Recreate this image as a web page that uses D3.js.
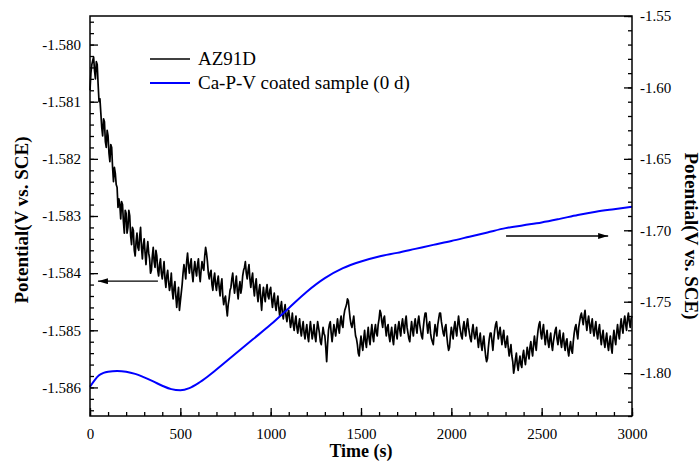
<!DOCTYPE html>
<html>
<head>
<meta charset="utf-8">
<script src="https://cdn.jsdelivr.net/npm/d3@7"></script>
<style>
  body { margin: 0; background: #fff; }
  svg { display: block; }
  text { font-family: "Liberation Serif", "Times New Roman", serif; }
</style>
</head>
<body>
<svg id="chart" width="700" height="461"></svg>
<script>
// ---------- DATA ----------
const xTicks = [0, 500, 1000, 1500, 2000, 2500, 3000];
const leftTicks = [-1.580, -1.581, -1.582, -1.583, -1.584, -1.585, -1.586];
const rightTicks = [-1.55, -1.60, -1.65, -1.70, -1.75, -1.80];
const legendLabels = ["AZ91D", "Ca-P-V coated sample (0 d)"];

// AZ91D potential (left axis), readings at t = 0, 10, 20, ... 3000 s
const azStep = 10;
const azValues = [
-1.58080,-1.58035,-1.58022,-1.58060,-1.58035,-1.58100,-1.58120,-1.58160,-1.58135,-1.58180,
-1.58160,-1.58205,-1.58180,-1.58240,-1.58225,-1.58250,-1.58270,-1.58305,-1.58280,-1.58330,
-1.58295,-1.58320,-1.58300,-1.58350,-1.58325,-1.58370,-1.58330,-1.58360,-1.58320,-1.58375,
-1.58340,-1.58385,-1.58345,-1.58375,-1.58395,-1.58355,-1.58390,-1.58370,-1.58405,-1.58375,
-1.58410,-1.58380,-1.58425,-1.58395,-1.58430,-1.58400,-1.58445,-1.58415,-1.58460,-1.58425,
-1.58450,-1.58420,-1.58385,-1.58410,-1.58365,-1.58400,-1.58375,-1.58415,-1.58380,-1.58405,
-1.58375,-1.58415,-1.58380,-1.58395,-1.58355,-1.58380,-1.58410,-1.58395,-1.58430,-1.58400,
-1.58430,-1.58405,-1.58440,-1.58410,-1.58455,-1.58440,-1.58475,-1.58445,-1.58425,-1.58400,
-1.58435,-1.58405,-1.58445,-1.58415,-1.58425,-1.58395,-1.58380,-1.58410,-1.58385,-1.58425,
-1.58400,-1.58440,-1.58410,-1.58450,-1.58420,-1.58465,-1.58425,-1.58450,-1.58420,-1.58445,
-1.58425,-1.58460,-1.58435,-1.58465,-1.58440,-1.58475,-1.58450,-1.58480,-1.58455,-1.58485,
-1.58465,-1.58495,-1.58470,-1.58500,-1.58475,-1.58505,-1.58480,-1.58510,-1.58485,-1.58515,
-1.58490,-1.58520,-1.58485,-1.58515,-1.58490,-1.58520,-1.58485,-1.58505,-1.58525,-1.58495,
-1.58510,-1.58555,-1.58500,-1.58485,-1.58520,-1.58490,-1.58510,-1.58480,-1.58505,-1.58475,
-1.58495,-1.58465,-1.58455,-1.58448,-1.58480,-1.58495,-1.58475,-1.58510,-1.58525,-1.58545,
-1.58510,-1.58535,-1.58500,-1.58530,-1.58495,-1.58525,-1.58490,-1.58520,-1.58490,-1.58510,
-1.58480,-1.58470,-1.58495,-1.58475,-1.58510,-1.58490,-1.58520,-1.58495,-1.58525,-1.58490,
-1.58515,-1.58485,-1.58510,-1.58480,-1.58505,-1.58475,-1.58505,-1.58520,-1.58485,-1.58510,
-1.58480,-1.58505,-1.58475,-1.58500,-1.58515,-1.58480,-1.58470,-1.58505,-1.58485,-1.58515,
-1.58525,-1.58490,-1.58510,-1.58480,-1.58470,-1.58495,-1.58510,-1.58490,-1.58525,-1.58530,
-1.58495,-1.58515,-1.58485,-1.58510,-1.58475,-1.58500,-1.58515,-1.58485,-1.58510,-1.58480,
-1.58505,-1.58520,-1.58490,-1.58515,-1.58495,-1.58530,-1.58505,-1.58535,-1.58510,-1.58545,
-1.58550,-1.58515,-1.58505,-1.58535,-1.58500,-1.58485,-1.58515,-1.58495,-1.58525,-1.58500,
-1.58530,-1.58510,-1.58545,-1.58525,-1.58555,-1.58565,-1.58540,-1.58570,-1.58545,-1.58565,
-1.58535,-1.58560,-1.58530,-1.58550,-1.58520,-1.58545,-1.58510,-1.58535,-1.58500,-1.58485,
-1.58515,-1.58490,-1.58525,-1.58500,-1.58530,-1.58505,-1.58535,-1.58510,-1.58495,-1.58525,
-1.58500,-1.58530,-1.58505,-1.58535,-1.58515,-1.58545,-1.58520,-1.58540,-1.58505,-1.58490,
-1.58515,-1.58485,-1.58470,-1.58490,-1.58465,-1.58500,-1.58475,-1.58505,-1.58480,-1.58510,
-1.58485,-1.58515,-1.58490,-1.58525,-1.58500,-1.58530,-1.58505,-1.58535,-1.58510,-1.58540,
-1.58500,-1.58525,-1.58490,-1.58515,-1.58480,-1.58505,-1.58475,-1.58500,-1.58470,-1.58495,
-1.58475
];
// AZ91D readings in between, at t = 5, 15, 25, ... 2995 s
const azMidValues = [
-1.58050,-1.58028,-1.58045,-1.58030,-1.58070,-1.58095,-1.58145,-1.58130,-1.58170,-1.58150,
-1.58190,-1.58175,-1.58215,-1.58215,-1.58245,-1.58285,-1.58280,-1.58275,-1.58310,-1.58290,
-1.58330,-1.58290,-1.58335,-1.58320,-1.58360,-1.58345,-1.58355,-1.58335,-1.58355,-1.58350,
-1.58365,-1.58360,-1.58365,-1.58400,-1.58370,-1.58380,-1.58360,-1.58395,-1.58385,-1.58400,
-1.58395,-1.58410,-1.58405,-1.58415,-1.58420,-1.58430,-1.58425,-1.58440,-1.58440,-1.58465,
-1.58435,-1.58400,-1.58395,-1.58380,-1.58385,-1.58385,-1.58400,-1.58395,-1.58395,-1.58385,
-1.58400,-1.58395,-1.58390,-1.58370,-1.58365,-1.58400,-1.58400,-1.58420,-1.58410,-1.58420,
-1.58415,-1.58425,-1.58420,-1.58440,-1.58445,-1.58460,-1.58455,-1.58430,-1.58410,-1.58420,
-1.58420,-1.58430,-1.58425,-1.58435,-1.58405,-1.58390,-1.58400,-1.58395,-1.58410,-1.58410,
-1.58425,-1.58420,-1.58435,-1.58430,-1.58445,-1.58440,-1.58440,-1.58430,-1.58440,-1.58430,
-1.58445,-1.58445,-1.58455,-1.58450,-1.58460,-1.58460,-1.58470,-1.58465,-1.58475,-1.58470,
-1.58480,-1.58485,-1.58490,-1.58485,-1.58495,-1.58490,-1.58500,-1.58495,-1.58505,-1.58500,
-1.58510,-1.58500,-1.58500,-1.58505,-1.58510,-1.58500,-1.58495,-1.58520,-1.58510,-1.58505,
-1.58530,-1.58525,-1.58490,-1.58505,-1.58505,-1.58500,-1.58495,-1.58495,-1.58485,-1.58490,
-1.58475,-1.58460,-1.58445,-1.58465,-1.58490,-1.58485,-1.58495,-1.58515,-1.58540,-1.58525,
-1.58525,-1.58515,-1.58520,-1.58510,-1.58515,-1.58505,-1.58510,-1.58500,-1.58505,-1.58490,
-1.58465,-1.58485,-1.58480,-1.58495,-1.58495,-1.58510,-1.58505,-1.58515,-1.58505,-1.58505,
-1.58495,-1.58500,-1.58490,-1.58495,-1.58485,-1.58495,-1.58515,-1.58500,-1.58500,-1.58490,
-1.58495,-1.58485,-1.58490,-1.58510,-1.58495,-1.58470,-1.58490,-1.58490,-1.58505,-1.58520,
-1.58505,-1.58500,-1.58490,-1.58470,-1.58485,-1.58505,-1.58495,-1.58510,-1.58535,-1.58510,
-1.58505,-1.58495,-1.58500,-1.58490,-1.58490,-1.58510,-1.58495,-1.58500,-1.58490,-1.58495,
-1.58515,-1.58500,-1.58505,-1.58505,-1.58515,-1.58515,-1.58525,-1.58520,-1.58530,-1.58555,
-1.58530,-1.58505,-1.58520,-1.58515,-1.58490,-1.58500,-1.58505,-1.58510,-1.58510,-1.58520,
-1.58520,-1.58530,-1.58535,-1.58545,-1.58575,-1.58550,-1.58560,-1.58555,-1.58560,-1.58545,
-1.58550,-1.58545,-1.58540,-1.58530,-1.58535,-1.58525,-1.58525,-1.58515,-1.58490,-1.58505,
-1.58500,-1.58510,-1.58510,-1.58520,-1.58515,-1.58525,-1.58520,-1.58500,-1.58515,-1.58510,
-1.58520,-1.58515,-1.58525,-1.58520,-1.58535,-1.58530,-1.58535,-1.58520,-1.58495,-1.58505,
-1.58495,-1.58475,-1.58480,-1.58475,-1.58485,-1.58485,-1.58490,-1.58490,-1.58500,-1.58495,
-1.58505,-1.58500,-1.58510,-1.58510,-1.58520,-1.58515,-1.58525,-1.58520,-1.58530,-1.58515,
-1.58515,-1.58505,-1.58505,-1.58495,-1.58495,-1.58485,-1.58490,-1.58480,-1.58485,-1.58480
];

// Ca-P-V coated sample potential (right axis)
const coatTimes = [0,25,50,75,100,150,200,250,300,350,400,450,500,550,600,650,700,800,900,1000,
  1100,1200,1300,1400,1500,1600,1700,1800,1900,2000,2100,2200,2300,2400,2500,2600,2700,2800,2900,3000];
const coatValues = [-1.8095,-1.8050,-1.8015,-1.7998,-1.7990,-1.7985,-1.7990,-1.8005,-1.8030,-1.8058,
  -1.8088,-1.8112,-1.8120,-1.8105,-1.8070,-1.8025,-1.7975,-1.7870,-1.7765,-1.7660,
  -1.7545,-1.7430,-1.7335,-1.7265,-1.7218,-1.7183,-1.7158,-1.7130,-1.7102,-1.7075,
  -1.7045,-1.7015,-1.6985,-1.6965,-1.6945,-1.6920,-1.6893,-1.6870,-1.6852,-1.6835];

// annotation arrows (data coordinates)
const leftArrow = { t0: 376, t1: 44, v: -1.58414 };
const rightArrow = { t0: 2303, t1: 2868, v: -1.7040 };

// ---------- CHART ----------
const svg = d3.select("#chart");
const m = { left: 90, right: 68, top: 16, bottom: 45 };
const W = 700, H = 461;
const x0 = m.left, x1 = W - m.right, y0 = m.top, y1 = H - m.bottom;

const x = d3.scaleLinear().domain([0, 3000]).range([x0, x1]);
const yL = d3.scaleLinear().domain([-1.5865, -1.5795]).range([y1, y0]);
const yR = d3.scaleLinear().domain([-1.83, -1.55]).range([y1, y0]);

const azData = [];
azValues.forEach((v, i) => {
  azData.push({ t: i * azStep, v });
  if (i < azMidValues.length) azData.push({ t: i * azStep + azStep / 2, v: azMidValues[i] });
});
const coatData = coatTimes.map((t, i) => ({ t, v: coatValues[i] }));

// lines
svg.append("path")
  .datum(azData)
  .attr("fill", "none")
  .attr("stroke", "#000")
  .attr("stroke-width", 1.7)
  .attr("stroke-linejoin", "round")
  .attr("d", d3.line().x(d => x(d.t)).y(d => yL(d.v)));

svg.append("path")
  .datum(coatData)
  .attr("fill", "none")
  .attr("stroke", "#0000ff")
  .attr("stroke-width", 2)
  .attr("d", d3.line().curve(d3.curveMonotoneX).x(d => x(d.t)).y(d => yR(d.v)));

// axes
function styleAxis(g) {
  g.selectAll(".domain").remove();
  g.selectAll(".tick line").attr("stroke", "#000").attr("stroke-width", 1.3);
  g.selectAll(".tick text").attr("fill", "#000")
    .style("font-family", "'Liberation Serif', serif").style("font-size", "15px");
}

const xMinor = d3.range(0, 3001, 100);
const lMinor = d3.range(0, 36).map(i => -1.5796 - i * 0.0002);
const rMinor = d3.range(0, 29).map(i => -1.55 - i * 0.01);

svg.append("g").attr("transform", `translate(0,${y1})`)
  .call(d3.axisBottom(x).tickValues(xMinor).tickSize(-4).tickFormat(""))
  .call(styleAxis);
svg.append("g").attr("transform", `translate(0,${y1})`)
  .call(d3.axisBottom(x).tickValues(xTicks).tickSize(-8).tickPadding(12).tickFormat(d3.format("d")))
  .call(styleAxis);

svg.append("g").attr("transform", `translate(${x0},0)`)
  .call(d3.axisLeft(yL).tickValues(lMinor.filter(v => v >= -1.5865 && v <= -1.5795)).tickSize(-4).tickFormat(""))
  .call(styleAxis);
svg.append("g").attr("transform", `translate(${x0},0)`)
  .call(d3.axisLeft(yL).tickValues(leftTicks).tickSize(-8).tickPadding(9).tickFormat(d => d.toFixed(3)))
  .call(styleAxis);

svg.append("g").attr("transform", `translate(${x1},0)`)
  .call(d3.axisRight(yR).tickValues(rMinor).tickSize(-4).tickFormat(""))
  .call(styleAxis);
svg.append("g").attr("transform", `translate(${x1},0)`)
  .call(d3.axisRight(yR).tickValues(rightTicks).tickSize(-8).tickPadding(8).tickFormat(d => d.toFixed(2)))
  .call(styleAxis);

// frame
svg.append("rect")
  .attr("x", x0).attr("y", y0).attr("width", x1 - x0).attr("height", y1 - y0)
  .attr("fill", "none").attr("stroke", "#000").attr("stroke-width", 1.5);

// axis titles
svg.append("text")
  .attr("x", (x0 + x1) / 2).attr("y", 457)
  .attr("text-anchor", "middle")
  .style("font-size", "18px").style("font-weight", "bold")
  .text("Time (s)");

svg.append("text")
  .attr("transform", `translate(21,${(y0 + y1) / 2 + 4}) rotate(-90)`)
  .attr("text-anchor", "middle").attr("dominant-baseline", "central")
  .style("font-size", "19px").style("font-weight", "bold")
  .text("Potential(V vs. SCE)");

svg.append("text")
  .attr("transform", `translate(691,${(y0 + y1) / 2 + 20}) rotate(90)`)
  .attr("text-anchor", "middle").attr("dominant-baseline", "central")
  .style("font-size", "19px").style("font-weight", "bold")
  .text("Potential(V vs. SCE)");

// legend
const legendColors = ["#000", "#0000ff"];
const lg = svg.append("g");
legendLabels.forEach((lab, i) => {
  const yy = 59 + i * 24;
  lg.append("line").attr("x1", 150).attr("x2", 190).attr("y1", yy).attr("y2", yy)
    .attr("stroke", legendColors[i]).attr("stroke-width", i ? 2 : 1.6);
  lg.append("text").attr("x", 198).attr("y", yy + 6)
    .style("font-size", "19px").attr("fill", "#000").text(lab);
});

// arrows
const defs = svg.append("defs");
defs.append("marker").attr("id", "ah")
  .attr("viewBox", "0 0 10 6").attr("refX", 10).attr("refY", 3)
  .attr("markerWidth", 10).attr("markerHeight", 6).attr("markerUnits", "userSpaceOnUse")
  .attr("orient", "auto")
  .append("path").attr("d", "M0,0 L10,3 L0,6 Z").attr("fill", "#000");

svg.append("line")
  .attr("x1", x(leftArrow.t0)).attr("x2", x(leftArrow.t1))
  .attr("y1", yL(leftArrow.v)).attr("y2", yL(leftArrow.v))
  .attr("stroke", "#000").attr("stroke-width", 1.3).attr("marker-end", "url(#ah)");
svg.append("line")
  .attr("x1", x(rightArrow.t0)).attr("x2", x(rightArrow.t1))
  .attr("y1", yR(rightArrow.v)).attr("y2", yR(rightArrow.v))
  .attr("stroke", "#000").attr("stroke-width", 1.3).attr("marker-end", "url(#ah)");
</script>
</body>
</html>
